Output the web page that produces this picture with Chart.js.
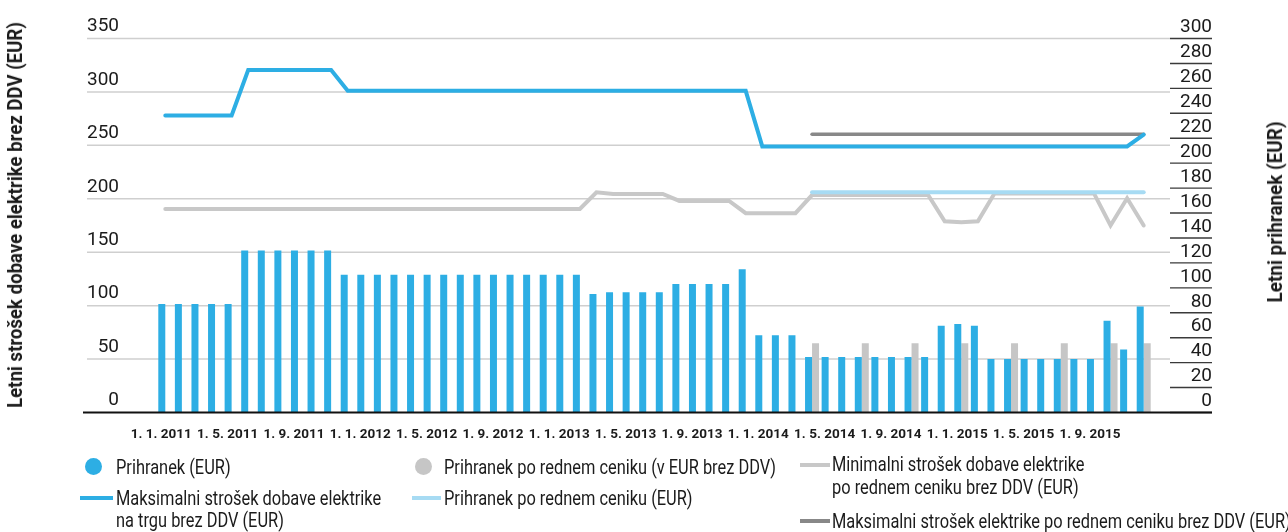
<!DOCTYPE html>
<html>
<head>
<meta charset="utf-8">
<script src="https://cdn.jsdelivr.net/npm/chart.js@4.4.0/dist/chart.umd.min.js"></script>
<style>
  html, body { margin: 0; padding: 0; background: #fff; }
  #wrap {
    position: relative; width: 1288px; height: 532px; overflow: hidden;
    font-family: "Roboto", "Liberation Sans", sans-serif;
    color: #1b1b1b;
  }
  #c { position: absolute; left: 0; top: 0; }
  .axt { position: absolute; font-weight: bold; font-size: 20px; line-height: 22px; white-space: nowrap;
         transform: translate(-50%, -50%) rotate(-90deg) scaleX(0.93); }
  .axt.r { font-size: 21px; transform: translate(-50%, -50%) rotate(-90deg) scaleX(0.9); }
  .lg { position: absolute; font-size: 20px; line-height: 22px; white-space: nowrap;
        transform: scaleX(0.82); transform-origin: 0 50%; }
  .dot { position: absolute; width: 17px; height: 17px; border-radius: 50%; }
  .ln { position: absolute; height: 4px; }
</style>
</head>
<body>
<div id="wrap">
  <canvas id="c" width="1288" height="532"></canvas>

  <div class="axt" style="left:15px; top:215px;">Letni strošek dobave elektrike brez DDV (EUR)</div>
  <div class="axt r" style="left:1275px; top:212px;">Letni prihranek (EUR)</div>

  <div class="dot" style="left:85px; top:458px; background:#2DAEE4;"></div>
  <div class="lg" style="left:116px; top:456px;">Prihranek (EUR)</div>
  <div class="ln" style="left:80px; top:496px; width:33px; background:#2DAEE4;"></div>
  <div class="lg" style="left:116px; top:487px;">Maksimalni strošek dobave elektrike<br>na trgu brez DDV (EUR)</div>

  <div class="dot" style="left:415px; top:458px; background:#C6C6C6;"></div>
  <div class="lg" style="left:444px; top:456px;">Prihranek po rednem ceniku (v EUR brez DDV)</div>
  <div class="ln" style="left:412px; top:496px; width:29px; background:#A7DBF3;"></div>
  <div class="lg" style="left:444px; top:487px;">Prihranek po rednem ceniku (EUR)</div>

  <div class="ln" style="left:800px; top:463px; width:30px; background:#C8C8C8;"></div>
  <div class="lg" style="left:832px; top:453px; line-height:23px;">Minimalni strošek dobave elektrike<br>po rednem ceniku brez DDV (EUR)</div>
  <div class="ln" style="left:800px; top:519px; width:30px; background:#888888;"></div>
  <div class="lg" style="left:832px; top:510px;">Maksimalni strošek elektrike po rednem ceniku brez DDV (EUR)</div>
</div>

<script>
// Monthly categories, January 2011 – December 2015
const months = [
  '1. 1. 2011','1. 2. 2011','1. 3. 2011','1. 4. 2011','1. 5. 2011','1. 6. 2011',
  '1. 7. 2011','1. 8. 2011','1. 9. 2011','1. 10. 2011','1. 11. 2011','1. 12. 2011',
  '1. 1. 2012','1. 2. 2012','1. 3. 2012','1. 4. 2012','1. 5. 2012','1. 6. 2012',
  '1. 7. 2012','1. 8. 2012','1. 9. 2012','1. 10. 2012','1. 11. 2012','1. 12. 2012',
  '1. 1. 2013','1. 2. 2013','1. 3. 2013','1. 4. 2013','1. 5. 2013','1. 6. 2013',
  '1. 7. 2013','1. 8. 2013','1. 9. 2013','1. 10. 2013','1. 11. 2013','1. 12. 2013',
  '1. 1. 2014','1. 2. 2014','1. 3. 2014','1. 4. 2014','1. 5. 2014','1. 6. 2014',
  '1. 7. 2014','1. 8. 2014','1. 9. 2014','1. 10. 2014','1. 11. 2014','1. 12. 2014',
  '1. 1. 2015','1. 2. 2015','1. 3. 2015','1. 4. 2015','1. 5. 2015','1. 6. 2015',
  '1. 7. 2015','1. 8. 2015','1. 9. 2015','1. 10. 2015','1. 11. 2015','1. 12. 2015'
];

// Dates shown on the horizontal axis
const xTickLabels = [
  '1. 1. 2011','1. 5. 2011','1. 9. 2011','1. 1. 2012','1. 5. 2012','1. 9. 2012',
  '1. 1. 2013','1. 5. 2013','1. 9. 2013','1. 1. 2014','1. 5. 2014','1. 9. 2014',
  '1. 1. 2015','1. 5. 2015','1. 9. 2015'
];

// Maksimalni strošek dobave elektrike na trgu brez DDV (EUR) – left axis
const maxMarket = [
  278, 278, 278, 278, 278, 320.5, 320.5, 320.5, 320.5, 320.5, 320.5, 301,
  301, 301, 301, 301, 301, 301, 301, 301, 301, 301, 301, 301,
  301, 301, 301, 301, 301, 301, 301, 301, 301, 301, 301, 301,
  249, 249, 249, 249, 249, 249, 249, 249, 249, 249, 249, 249,
  249, 249, 249, 249, 249, 249, 249, 249, 249, 249, 249, 260
];

// Minimalni strošek dobave elektrike po rednem ceniku brez DDV (EUR) – left axis
const minRegular = [
  190.5, 190.5, 190.5, 190.5, 190.5, 190.5, 190.5, 190.5, 190.5, 190.5, 190.5, 190.5,
  190.5, 190.5, 190.5, 190.5, 190.5, 190.5, 190.5, 190.5, 190.5, 190.5, 190.5, 190.5,
  190.5, 190.5, 206, 204.5, 204.5, 204.5, 204.5, 198, 198, 198, 198, 186.5,
  186.5, 186.5, 186.5, 203.5, 203.5, 203.5, 203.5, 203.5, 203.5, 203.5, 203.5, 179,
  178, 179, 205, 205, 205, 205, 205, 205, 205, 175, 200.5, 175
];

// Maksimalni strošek elektrike po rednem ceniku brez DDV (EUR) – left axis
const maxRegular = [
  null, null, null, null, null, null, null, null, null, null, null, null,
  null, null, null, null, null, null, null, null, null, null, null, null,
  null, null, null, null, null, null, null, null, null, null, null, null,
  null, null, null, 260.5, 260.5, 260.5, 260.5, 260.5, 260.5, 260.5, 260.5, 260.5,
  260.5, 260.5, 260.5, 260.5, 260.5, 260.5, 260.5, 260.5, 260.5, 260.5, 260.5, 260.5
];

// Prihranek po rednem ceniku (EUR) – line, left axis
const savingsRegularLine = [
  null, null, null, null, null, null, null, null, null, null, null, null,
  null, null, null, null, null, null, null, null, null, null, null, null,
  null, null, null, null, null, null, null, null, null, null, null, null,
  null, null, null, 206, 206, 206, 206, 206, 206, 206, 206, 206,
  206, 206, 206, 206, 206, 206, 206, 206, 206, 206, 206, 206
];

// Prihranek (EUR) – bars, right axis
const savings = [
  87, 87, 87, 87, 87, 130, 130, 130, 130, 130, 130, 110.5,
  110.5, 110.5, 110.5, 110.5, 110.5, 110.5, 110.5, 110.5, 110.5, 110.5, 110.5, 110.5,
  110.5, 110.5, 95, 96.5, 96.5, 96.5, 96.5, 103, 103, 103, 103, 115,
  62, 62, 62, 44.5, 44.5, 44.5, 44.5, 44.5, 44.5, 44.5, 44.5, 69.5,
  71, 69.5, 43, 43, 43, 43, 43, 43, 43, 73.5, 50.5, 85
];

// Prihranek po rednem ceniku (v EUR brez DDV) – bars, right axis
const savingsRegularBars = [
  null, null, null, null, null, null, null, null, null, null, null, null,
  null, null, null, null, null, null, null, null, null, null, null, null,
  null, null, null, null, null, null, null, null, null, null, null, null,
  null, null, null, 55.5, null, null, 55.5, null, null, 55.5, null, null,
  55.5, null, null, 55.5, null, null, 55.5, null, null, 55.5, null, 55.5
];

const FONT = '"Roboto", "Liberation Sans", sans-serif';
const INK = '#1b1b1b';
Chart.defaults.font.family = FONT;
Chart.defaults.color = INK;

// Gridlines of the left scale reach past the plot on both sides; the right
// scale gets short dark marks under each of its labels.
const frame = {
  id: 'frame',
  beforeDatasetsDraw(chart) {
    const { ctx, chartArea: a, scales } = chart;
    const yl = scales.y, yr = scales.y2;
    ctx.save();
    ctx.lineWidth = 1.5;
    ctx.strokeStyle = '#cfcfcf';
    yl.ticks.forEach(t => {
      if (t.value === 0) return;
      const py = yl.getPixelForValue(t.value);
      ctx.beginPath(); ctx.moveTo(a.left - 70, py); ctx.lineTo(a.right + 18, py); ctx.stroke();
    });
    ctx.lineWidth = 1.4;
    ctx.strokeStyle = '#3a3a3a';
    yr.ticks.forEach(t => {
      const py = yr.getPixelForValue(t.value);
      ctx.beginPath(); ctx.moveTo(a.right + 18, py); ctx.lineTo(a.right + 60, py); ctx.stroke();
    });
    ctx.restore();
  },
  afterDatasetsDraw(chart) {
    const { ctx, chartArea: a } = chart;
    ctx.save();
    ctx.lineWidth = 2;
    ctx.strokeStyle = '#111';
    ctx.beginPath(); ctx.moveTo(a.left - 74, a.bottom); ctx.lineTo(a.right + 60, a.bottom); ctx.stroke();
    ctx.restore();
  }
};

const lineBase = {
  type: 'line', yAxisID: 'y', pointRadius: 0, pointHoverRadius: 0,
  tension: 0, borderCapStyle: 'round', borderJoinStyle: 'miter', fill: false
};

// Fixed axis boxes, without the extra room Chart.js keeps for edge labels
const noEdgePad = s => { s.paddingTop = 0; s.paddingBottom = 0; s.paddingLeft = 0; s.paddingRight = 0; };

new Chart(document.getElementById('c'), {
  type: 'bar',
  data: {
    labels: months,
    datasets: [
      { label: 'Prihranek (EUR)', data: savings, yAxisID: 'y2',
        backgroundColor: '#2DAEE4', order: 10,
        categoryPercentage: 0.844, barPercentage: 1.0 },
      { label: 'Prihranek po rednem ceniku (v EUR brez DDV)', data: savingsRegularBars, yAxisID: 'y2',
        backgroundColor: '#C6C6C6', order: 10,
        categoryPercentage: 0.844, barPercentage: 1.0 },
      Object.assign({}, lineBase, { label: 'Minimalni strošek dobave elektrike po rednem ceniku brez DDV (EUR)',
        data: minRegular, borderColor: '#C8C8C8', borderWidth: 4, order: 4 }),
      Object.assign({}, lineBase, { label: 'Prihranek po rednem ceniku (EUR)',
        data: savingsRegularLine, borderColor: '#A7DBF3', borderWidth: 4, order: 3 }),
      Object.assign({}, lineBase, { label: 'Maksimalni strošek elektrike po rednem ceniku brez DDV (EUR)',
        data: maxRegular, borderColor: '#888888', borderWidth: 3.5, order: 2 }),
      Object.assign({}, lineBase, { label: 'Maksimalni strošek dobave elektrike na trgu brez DDV (EUR)',
        data: maxMarket, borderColor: '#2DAEE4', borderWidth: 4, order: 1 })
    ]
  },
  options: {
    responsive: false,
    animation: false,
    devicePixelRatio: 1,
    events: [],
    layout: { padding: { top: 38.5, left: 0, right: 76, bottom: 0 } },
    plugins: { legend: { display: false }, tooltip: { enabled: false }, title: { display: false } },
    scales: {
      x: {
        grid: { display: false, drawTicks: false },
        border: { display: false },
        ticks: {
          autoSkip: false, maxRotation: 0, minRotation: 0,
          padding: 14, labelOffset: -4,
          font: { size: 13.5, weight: 'bold' }, color: INK,
          callback: (v, i) => xTickLabels.includes(months[i]) ? months[i] : ''
        },
        afterFit: s => { s.height = 532 - 412.5; noEdgePad(s); }
      },
      y: {
        position: 'left', min: 0, max: 350,
        grid: { display: false, drawTicks: false },
        border: { display: false },
        ticks: { autoSkip: false, stepSize: 50, padding: 38, labelOffset: -12, font: { size: 19 }, color: INK },
        afterFit: s => { s.width = 157; noEdgePad(s); }
      },
      y2: {
        position: 'right', min: 0, max: 300,
        grid: { display: false, drawTicks: false },
        border: { display: false },
        ticks: { autoSkip: false, stepSize: 20, padding: 0, crossAlign: 'far', labelOffset: -11, font: { size: 19 }, color: INK },
        afterFit: s => { s.width = 60; noEdgePad(s); }
      }
    }
  },
  plugins: [frame]
});
</script>
</body>
</html>
